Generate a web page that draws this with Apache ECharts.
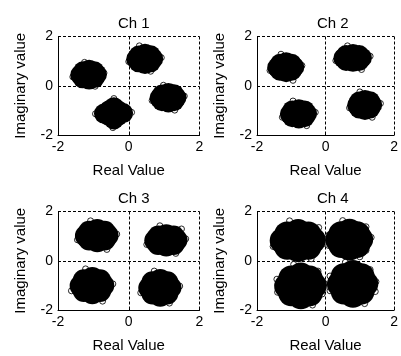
<!DOCTYPE html>
<html>
<head>
<meta charset="utf-8">
<script src="https://cdn.jsdelivr.net/npm/echarts@6/dist/echarts.min.js"></script>
<style>
  html, body { margin: 0; padding: 0; background: #fff; }
  #chart { width: 401px; height: 356px; }
</style>
</head>
<body>
<div id="chart"></div>
<script>
// Received constellation samples (I/Q) for four channels.
const channelTitles = ['Ch 1', 'Ch 2', 'Ch 3', 'Ch 4'];
const axisTicks = [-2, 0, 2];
const xAxisName = 'Real Value';
const yAxisName = 'Imaginary value';

// Channel 1 samples: dense cores and outlying samples
const ch1Core = [
  [-0.90, 0.46], [-0.97, 0.59], [-1.12, 0.65], [-1.29, 0.59], [-1.37, 0.44], [-1.30, 0.30], [-1.12, 0.25], [-0.97, 0.31], [-1.13, 0.45],
  [0.69, 1.10], [0.62, 1.24], [0.46, 1.30], [0.28, 1.23], [0.21, 1.08], [0.28, 0.95], [0.46, 0.88], [0.62, 0.95], [0.45, 1.09],
  [1.35, -0.48], [1.28, -0.35], [1.12, -0.29], [0.94, -0.36], [0.87, -0.50], [0.94, -0.63], [1.12, -0.68], [1.28, -0.63], [1.11, -0.49],
  [-0.16, -1.11], [-0.31, -0.99], [-0.42, -0.87], [-0.55, -0.99], [-0.70, -1.13], [-0.55, -1.24], [-0.42, -1.37], [-0.31, -1.24], [-0.43, -1.12]
];
const ch1Edge = [
  [-1.58, 0.36], [-0.70, 0.52], [-1.25, 0.95], [-0.95, -0.02],
  [0.92, 1.14], [0.30, 1.62], [0.00, 0.98], [0.62, 0.59],
  [1.57, -0.42], [0.98, 0.02], [0.66, -0.60], [1.30, -0.99],
  [0.08, -1.08], [-0.42, -0.52], [-0.94, -1.14], [-0.45, -1.70]
];

// Channel 2 samples
const ch2Core = [
  [-0.91, 0.76], [-0.99, 0.89], [-1.15, 0.95], [-1.33, 0.89], [-1.41, 0.74], [-1.33, 0.61], [-1.15, 0.55], [-0.99, 0.61], [-1.16, 0.75],
  [1.06, 1.14], [0.98, 1.25], [0.80, 1.29], [0.60, 1.25], [0.52, 1.12], [0.60, 1.01], [0.80, 0.97], [0.98, 1.01], [0.79, 1.13],
  [1.36, -0.77], [1.30, -0.63], [1.15, -0.58], [0.98, -0.64], [0.92, -0.79], [0.98, -0.92], [1.15, -0.98], [1.30, -0.92], [1.14, -0.78],
  [-0.54, -1.13], [-0.61, -1.00], [-0.78, -0.95], [-0.97, -1.00], [-1.04, -1.15], [-0.97, -1.28], [-0.78, -1.33], [-0.61, -1.28], [-0.79, -1.14]
];
const ch2Edge = [
  [-0.69, 0.82], [-1.30, 1.28], [-1.62, 0.62], [-0.95, 0.22],
  [1.30, 1.20], [0.64, 1.62], [0.30, 1.02], [1.05, 0.66],
  [1.60, -0.72], [1.00, -0.25], [0.70, -0.90], [1.36, -1.28],
  [-0.30, -1.08], [-0.95, -0.62], [-1.26, -1.28], [-0.55, -1.62]
];

// Channel 3 samples
const ch3Core = [
  [-0.60, 1.03], [-0.68, 1.18], [-0.89, 1.25], [-1.12, 1.18], [-1.21, 1.01], [-1.12, 0.86], [-0.89, 0.79], [-0.68, 0.86], [-0.90, 1.02],
  [1.35, 0.84], [1.27, 0.98], [1.06, 1.04], [0.84, 0.98], [0.75, 0.82], [0.83, 0.68], [1.06, 0.62], [1.27, 0.68], [1.05, 0.83],
  [-0.72, -1.00], [-0.81, -0.79], [-1.03, -0.70], [-1.27, -0.79], [-1.36, -1.02], [-1.27, -1.23], [-1.03, -1.32], [-0.81, -1.23], [-1.04, -1.01],
  [1.18, -1.09], [1.09, -0.87], [0.89, -0.78], [0.67, -0.87], [0.58, -1.11], [0.67, -1.33], [0.89, -1.42], [1.09, -1.33], [0.88, -1.10]
];
const ch3Edge = [
  [-0.34, 1.08], [-1.08, 1.62], [-1.45, 0.85], [-0.62, 0.46],
  [1.61, 0.89], [0.88, 1.42], [0.51, 0.66], [1.33, 0.30], [1.49, 1.29],
  [-0.45, -0.94], [-1.22, -0.33], [-1.62, -1.22], [-0.74, -1.64],
  [1.44, -1.03], [0.72, -0.42], [0.34, -1.30], [1.15, -1.72]
];

// Channel 4 samples
const ch4Core = [
  [-0.37, 0.83], [-0.50, 1.07], [-0.80, 1.17], [-1.12, 1.07], [-1.25, 0.81], [-1.12, 0.57], [-0.80, 0.47], [-0.50, 0.57], [-0.81, 0.82],
  [1.01, 0.87], [0.92, 1.08], [0.70, 1.18], [0.46, 1.08], [0.37, 0.85], [0.46, 0.64], [0.70, 0.54], [0.92, 0.64], [0.69, 0.86],
  [-0.34, -1.01], [-0.46, -0.72], [-0.72, -0.60], [-1.00, -0.72], [-1.12, -1.03], [-1.00, -1.32], [-0.72, -1.44], [-0.46, -1.32], [-0.73, -1.02],
  [1.16, -0.93], [1.05, -0.63], [0.80, -0.50], [0.53, -0.63], [0.42, -0.95], [0.53, -1.25], [0.80, -1.38], [1.05, -1.25], [0.79, -0.94]
];
const ch4Edge = [
  [-0.06, 0.90], [-1.05, 1.62], [-1.53, 0.58], [-0.42, 0.08], [-1.52, 0.84], [-0.20, 1.35], [0.00, 0.70],
  [1.33, 0.95], [0.50, 1.63], [0.09, 0.62], [1.00, 0.16], [1.18, 1.38], [1.18, 0.42], [0.10, 1.05],
  [-0.04, -0.92], [-0.93, -0.15], [-1.40, -1.28], [-0.38, -1.80], [-1.42, -0.75], [-0.10, -1.35], [-0.22, -0.42],
  [1.47, -0.85], [0.58, -0.06], [0.13, -1.22], [1.14, -1.74], [1.30, -0.36], [0.13, -0.62], [1.45, -1.25]
];

const coreSets = [ch1Core, ch2Core, ch3Core, ch4Core];
const edgeSets = [ch1Edge, ch2Edge, ch3Edge, ch4Edge];

// Panel layout (pixels) and marker styling
const panels = [
  { left: 58,  top: 36.5 },
  { left: 257, top: 36.5 },
  { left: 58,  top: 211.5 },
  { left: 257, top: 211.5 }
];
const panelW = 141.5;
const panelH = 98.5;
const coreSize = [20, 20, 22, 26];
const FONT = '"Liberation Sans", Arial, sans-serif';

const grids = [], xAxes = [], yAxes = [], series = [], titles = [];
panels.forEach((p, i) => {
  grids.push({ left: p.left, top: p.top, width: panelW, height: panelH });
  titles.push({
    text: channelTitles[i],
    left: p.left + panelW / 2,
    top: p.top - 25,
    textAlign: 'center',
    textStyle: { fontFamily: FONT, fontSize: 15, fontWeight: 'normal', color: '#000' }
  });
  const common = {
    gridIndex: i,
    type: 'value',
    min: axisTicks[0],
    max: axisTicks[axisTicks.length - 1],
    interval: axisTicks[1] - axisTicks[0],
    nameLocation: 'middle',
    nameTextStyle: { fontFamily: FONT, fontSize: 15, color: '#000' },
    axisLine: { show: true, onZero: false, lineStyle: { color: '#000', width: 1 } },
    axisTick: { show: true, inside: true, length: 3, lineStyle: { color: '#000' } },
    axisLabel: { fontFamily: FONT, fontSize: 14, color: '#000', margin: 5 },
    splitLine: { show: true, lineStyle: { color: '#000', width: 1, type: [3, 2] } }
  };
  xAxes.push(Object.assign({}, common, { name: xAxisName, nameGap: 28 }));
  yAxes.push(Object.assign({}, common, { name: yAxisName, nameGap: 30 }));
  // outlying samples drawn as hollow rings behind the dense cores
  series.push({
    type: 'scatter', xAxisIndex: i, yAxisIndex: i,
    data: edgeSets[i], symbol: 'circle', symbolSize: 6,
    itemStyle: { color: '#fff', borderColor: '#111', borderWidth: 0.9, opacity: 1 },
    z: 2, silent: true
  });
  series.push({
    type: 'scatter', xAxisIndex: i, yAxisIndex: i,
    data: coreSets[i], symbol: 'circle', symbolSize: coreSize[i],
    itemStyle: { color: '#000', opacity: 1 },
    z: 3, silent: true
  });
});

const chart = echarts.init(document.getElementById('chart'), null, { renderer: 'canvas' });
chart.setOption({
  backgroundColor: '#fff',
  animation: false,
  title: titles,
  grid: grids,
  xAxis: xAxes,
  yAxis: yAxes,
  series: series
});
</script>
</body>
</html>
